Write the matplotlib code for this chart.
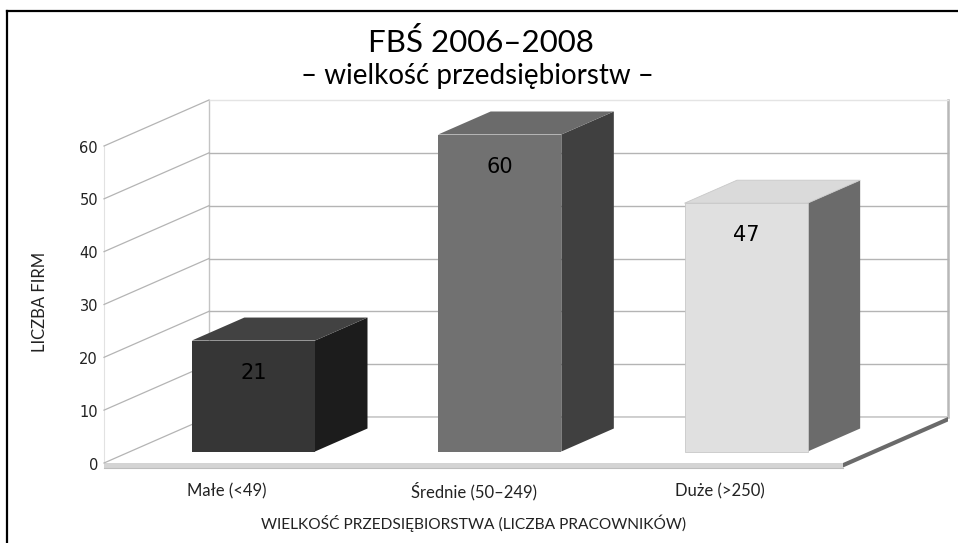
import matplotlib
matplotlib.use("Agg")
import matplotlib.pyplot as plt
from matplotlib.patches import Polygon
from matplotlib.lines import Line2D

# ---------------- data ----------------
categories = ['Małe (<49)', 'Średnie (50–249)', 'Duże (>250)']
values = [21, 60, 47]
yticks = [0, 10, 20, 30, 40, 50, 60]
title_line1 = 'FBŚ 2006–2008'
title_line2 = '– wielkość przedsiębiorstw –'
xlabel = 'WIELKOŚĆ PRZEDSIĘBIORSTWA (LICZBA PRACOWNIKÓW)'
ylabel = 'LICZBA FIRM'

# ---------------- styles ----------------
front_colors = ['#363636', '#717171', '#e0e0e0']
top_colors = ['#424242', '#6b6b6b', '#dadada']
side_colors = ['#1c1c1c', '#404040', '#6b6b6b']
grid_color = '#b4b4b4'
narrow = ['Lato', 'DejaVu Sans']

W, H = 958, 543
fig = plt.figure(figsize=(W / 100, H / 100), dpi=100)
fig.patch.set_facecolor('white')
ax = fig.add_axes([0, 0, 1, 1])
ax.axis('off')

# pixel geometry of the front plane
n = len(categories)
ymax = 60
PX_X = 739 / n          # pixels per category
PX_Y = 317 / ymax       # pixels per unit
x0px, y0px = 104, H - 463
ax.set_xlim(-0.5 - x0px / PX_X, -0.5 + (W - x0px) / PX_X)
ax.set_ylim(-y0px / PX_Y, (H - y0px) / PX_Y)
DX = 105 / PX_X         # depth offset (data units)
DY = 46 / PX_Y

xl, xr = -0.5, n - 0.5


def poly(pts, fc, ec='none', lw=0, z=1):
    ax.add_patch(Polygon(pts, closed=True, facecolor=fc, edgecolor=ec,
                         linewidth=lw, zorder=z))


# back wall & left wall outline
ax.plot([xl + DX, xl + DX], [DY, ymax + DY], color='#c4c4c4', lw=1, zorder=2)
ax.plot([xr + DX, xr + DX], [DY, ymax + DY], color='#b8b8b8', lw=1.8, zorder=2)
ax.plot([xl, xl], [0, ymax], color='#e2e2e2', lw=0.8, zorder=2)

# gridlines
for t in yticks:
    col = grid_color if t < ymax else '#e4e4e4'
    ax.plot([xl + DX, xr + DX], [t + DY, t + DY], color=col, lw=1, zorder=2)
    ax.plot([xl, xl + DX], [t, t + DY], color=grid_color, lw=0.9, zorder=3.5)
    ax.text(xl - 6 / PX_X, t - 2 / PX_Y, str(t), ha='right', va='center',
            fontsize=10.5, color='#222222', family='DejaVu Sans')

# floor slab
thick = 4.5 / PX_Y
poly([(xl, 0), (xr, 0), (xr + DX, DY), (xl + DX, DY)], 'white', z=3)
ax.plot([xl + DX, xr + DX], [DY, DY], color='#c8c8c8', lw=1.2, zorder=3)
poly([(xl, 0), (xr, 0), (xr, -thick), (xl, -thick)], '#d4d4d4', z=3)
ax.plot([xl, xr], [-thick, -thick], color='#bdbdbd', lw=0.8, zorder=3)
poly([(xr, 0), (xr + DX, DY), (xr + DX, DY - thick), (xr, -thick)], '#6a6a6a', z=3)

# bars (depth 0.25 .. 0.75 of the floor)
d0, d1 = 0.25, 0.75
bw = 0.25
for i, v in enumerate(values):
    fx0 = i - bw + d0 * DX
    fx1 = i + bw + d0 * DX
    by = d0 * DY
    ty = by + v
    ddx = (d1 - d0) * DX
    ddy = (d1 - d0) * DY
    ec = '#c8c8c8' if i == 2 else 'none'
    lw = 0.6 if i == 2 else 0
    # side
    poly([(fx1, by), (fx1 + ddx, by + ddy), (fx1 + ddx, ty + ddy), (fx1, ty)],
         side_colors[i], z=4)
    # top
    poly([(fx0, ty), (fx1, ty), (fx1 + ddx, ty + ddy), (fx0 + ddx, ty + ddy)],
         top_colors[i], ec, lw, z=4)
    # front
    poly([(fx0, by), (fx1, by), (fx1, ty), (fx0, ty)], front_colors[i], ec, lw, z=5)
    ax.text((fx0 + fx1) / 2, ty - 32 / PX_Y, str(v), ha='center', va='center',
            fontsize=15, color='black', family='DejaVu Sans', zorder=6)

# category labels
for i, c in enumerate(categories):
    ax.text(i, -28 / PX_Y, c, ha='center', va='center', fontsize=12,
            family=narrow, color='#222222')

# axis titles
ax.text(1, -60 / PX_Y, xlabel, ha='center', va='center', fontsize=11.2,
        family=narrow, color='#222222')
fig.text(40 / W, 1 - 302 / H, ylabel, rotation=90, ha='center', va='center',
         fontsize=12, family=narrow, color='#222222')

# chart title
fig.text(481 / W, 1 - 42 / H, title_line1, ha='center', va='center',
         fontsize=22.5, family=narrow, color='black')
fig.text(477 / W, 1 - 76 / H, title_line2, ha='center', va='center',
         fontsize=20, family=narrow, color='black')

# chart border (left and top)
fig.add_artist(Line2D([7 / W, 7 / W], [0, 1 - 11 / H], color='black', lw=1.6,
                      transform=fig.transFigure))
fig.add_artist(Line2D([7 / W, 1], [1 - 11 / H, 1 - 11 / H], color='black', lw=1.6,
                      transform=fig.transFigure))

fig.savefig('out.png', dpi=100)
